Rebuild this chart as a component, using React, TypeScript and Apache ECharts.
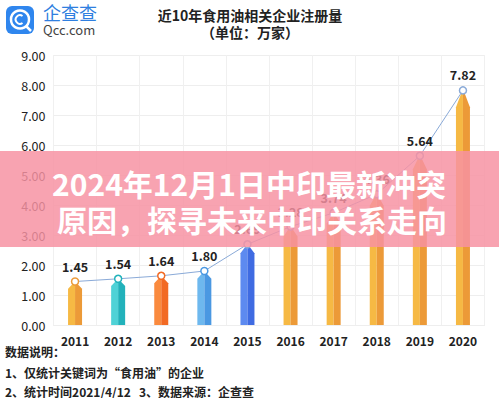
import React, { useEffect, useRef } from "react";
import * as echarts from "echarts";

const years = ["2011", "2012", "2013", "2014", "2015", "2016", "2017", "2018", "2019", "2020"];
const values = [1.45, 1.54, 1.64, 1.8, 2.69, 3.28, 3.74, 4.36, 5.64, 7.82];
const lightColors = ["#f6b944", "#4fd2d6", "#fa8a3e", "#6eb8ee", "#5d8af0", "#f6b944", "#f6b944", "#f6b944", "#f6b944", "#f6b944"];
const darkColors = ["#ec9a38", "#22b2bb", "#f26a24", "#4a98e2", "#3f6be2", "#ec9a38", "#ec9a38", "#ec9a38", "#ec9a38", "#ec9a38"];
const dotColors = ["#ec9a38", "#22b2bb", "#f26a24", "#4a98e2", "#8aaad8", "#8aaad8", "#8aaad8", "#8aaad8", "#8aaad8", "#8aaad8"];
const yTicks = { min: 0, max: 9, interval: 1 };
const titleText = "近10年食用油相关企业注册量";
const unitText = "（单位：万家）";
const bannerLines = ["2024年12月1日中印最新冲突", "原因，探寻未来中印关系走向"];
const notes = ["数据说明：", "1、仅统计关键词为“食用油”的企业", "2、统计时间2021/4/12", "3、数据来源：企查查"];

const FONT = '"Noto Sans CJK SC", "Noto Sans", sans-serif';

export default function App() {
  const ref = useRef<HTMLDivElement>(null);
  useEffect(() => {
    if (!ref.current) return;
    const chart = echarts.init(ref.current, null, { renderer: "svg" });
    const noteStyle = (text: string) => ({ text, fill: "#222", font: `bold 12px ${FONT}`, textVerticalAlign: "middle" });
    const option: any = {
      animation: false,
      backgroundColor: "#ffffff",
      textStyle: { fontFamily: FONT },
      grid: { left: 53.5, right: 14.5, top: 55, bottom: 73 },
      xAxis: {
        type: "category",
        data: years,
        boundaryGap: true,
        axisLine: { show: true, lineStyle: { color: "#eeeeee" } },
        axisTick: { show: false },
        splitLine: { show: true, lineStyle: { color: "#f0f0f0" } },
        axisLabel: { color: "#222", fontSize: 12, fontWeight: "bold", margin: 9, fontFamily: FONT },
      },
      yAxis: {
        type: "value",
        min: yTicks.min,
        max: yTicks.max,
        interval: yTicks.interval,
        axisLine: { show: false },
        axisTick: { show: false },
        splitLine: { show: true, lineStyle: { color: "#eeeeee" } },
        axisLabel: {
          color: "#222",
          fontSize: 12.5,
          margin: 8,
          fontFamily: FONT,
          formatter: (v: number) => v.toFixed(2),
        },
      },
      series: [
        {
          type: "custom",
          z: 2,
          data: values.map((v, i) => [i, v]),
          encode: { x: 0, y: 1 },
          renderItem: (params: any, api: any) => {
            const idx = api.value(0);
            const v = api.value(1);
            const top = api.coord([idx, v]);
            const base = api.coord([idx, 0]);
            const w = 14;
            const h = base[1] - top[1];
            const taper = 5 + h * 0.05;
            const cx = top[0];
            return {
              type: "group",
              children: [
                {
                  type: "polygon",
                  shape: {
                    points: [
                      [cx - w / 2, base[1]],
                      [cx - w / 2, top[1] + taper],
                      [cx - 1, top[1] + 1],
                      [cx, top[1]],
                      [cx, base[1]],
                    ],
                  },
                  style: { fill: lightColors[idx] },
                },
                {
                  type: "polygon",
                  shape: {
                    points: [
                      [cx, base[1]],
                      [cx, top[1]],
                      [cx + 1, top[1] + 1],
                      [cx + w / 2, top[1] + taper],
                      [cx + w / 2, base[1]],
                    ],
                  },
                  style: { fill: darkColors[idx] },
                },
              ],
            };
          },
        },
        {
          type: "line",
          z: 3,
          data: values.map((v, i) => ({
            value: v,
            itemStyle: { color: "#ffffff", borderColor: dotColors[i], borderWidth: 1.5 },
          })),
          symbol: "circle",
          symbolSize: 7,
          lineStyle: { color: "#8aaad8", width: 1 },
          label: {
            show: true,
            position: "top",
            distance: 5,
            color: "#222",
            fontSize: 12.5,
            fontWeight: "bold",
            fontFamily: FONT,
            formatter: (p: any) => Number(p.value).toFixed(2),
          },
        },
      ],
      graphic: [
        // logo
        { type: "rect", z: 50, shape: { x: 6, y: 6, width: 28, height: 28, r: 6 }, style: { fill: "#2f86ee" } },
        { type: "circle", z: 51, shape: { cx: 20, cy: 19.5, r: 9 }, style: { fill: "none", stroke: "#fff", lineWidth: 2.5 } },
        {
          type: "arc",
          z: 51,
          shape: { cx: 20, cy: 19.5, r: 4.3, startAngle: Math.PI * 0.3, endAngle: Math.PI * 1.7, clockwise: true },
          style: { fill: "none", stroke: "#fff", lineWidth: 2 },
        },
        { type: "line", z: 51, shape: { x1: 26, y1: 26, x2: 31, y2: 31 }, style: { stroke: "#fff", lineWidth: 2.5 } },
        {
          type: "text",
          z: 51,
          x: 43,
          y: 3,
          style: { text: "企查查", fill: "#2f7fe0", font: `18px ${FONT}`, textVerticalAlign: "top" },
        },
        {
          type: "text",
          z: 51,
          x: 43,
          y: 23,
          style: { text: "Qcc.com", fill: "#444", font: `13px ${FONT}`, textVerticalAlign: "top" },
        },
        // title
        {
          type: "text",
          z: 51,
          x: 250,
          y: 15,
          style: { text: titleText, fill: "#222", font: `bold 14px ${FONT}`, textAlign: "center", textVerticalAlign: "middle" },
        },
        {
          type: "text",
          z: 51,
          x: 250,
          y: 32,
          style: { text: unitText, fill: "#222", font: `bold 14px ${FONT}`, textAlign: "center", textVerticalAlign: "middle" },
        },
        // notes
        { type: "text", z: 51, x: 5, y: 351, style: noteStyle(notes[0]) },
        { type: "text", z: 51, x: 5, y: 372, style: noteStyle(notes[1]) },
        { type: "text", z: 51, x: 5, y: 391, style: noteStyle(notes[2]) },
        { type: "text", z: 51, x: 139, y: 391, style: noteStyle(notes[3]) },
        // banner
        {
          type: "rect",
          z: 100,
          shape: { x: 0, y: 151, width: 499, height: 96 },
          style: { fill: "rgba(247,145,162,0.84)" },
        },
        {
          type: "text",
          z: 101,
          x: 249,
          y: 183,
          style: {
            text: bannerLines[0],
            fill: "#ffffff",
            font: `bold 30px ${FONT}`,
            textAlign: "center",
            textVerticalAlign: "middle",
          },
        },
        {
          type: "text",
          z: 101,
          x: 252,
          y: 219,
          style: {
            text: bannerLines[1],
            fill: "#ffffff",
            font: `bold 30px ${FONT}`,
            textAlign: "center",
            textVerticalAlign: "middle",
          },
        },
      ],
    };
    chart.setOption(option);
    return () => chart.dispose();
  }, []);
  return (
    <div
      ref={ref}
      style={{ position: "fixed", left: 0, top: 0, width: 499, height: 398, background: "#fff" }}
    />
  );
}
